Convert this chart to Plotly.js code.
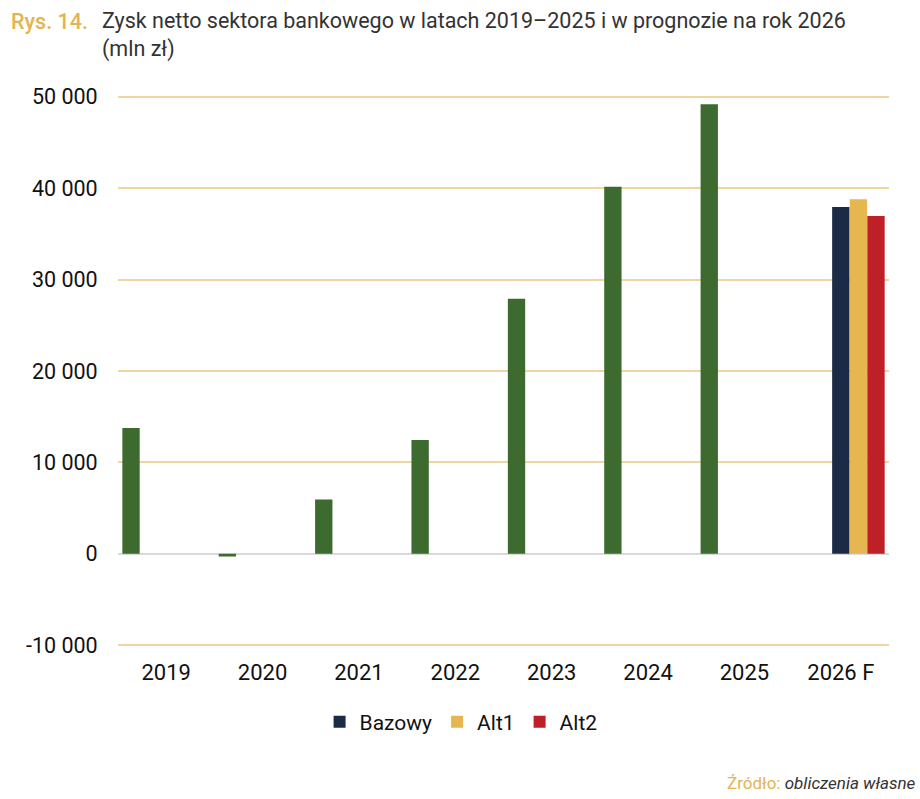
<!DOCTYPE html>
<html>
<head>
<meta charset="utf-8">
<script src="https://cdn.plot.ly/plotly-3.0.1.min.js"></script>
<style>
  html, body { margin: 0; padding: 0; background: #fff; }
  #chart { width: 920px; height: 799px; }
</style>
</head>
<body>
<div id="chart"></div>
<script>
// categories and values (mln zł)
const years = ['2019', '2020', '2021', '2022', '2023', '2024', '2025', '2026 F'];
const historical = [13750, -300, 5950, 12450, 27900, 40150, 49200, null];
const bazowy = [null, null, null, null, null, null, null, 37950];
const alt1 = [null, null, null, null, null, null, null, 38800];
const alt2 = [null, null, null, null, null, null, null, 36950];

const yTickVals = [-10000, 0, 10000, 20000, 30000, 40000, 50000];
const yTickText = ['-10 000', '0', '10 000', '20 000', '30 000', '40 000', '50 000'];

const GOLD = '#e3b552';
const BAR_W = 0.18;

function barTrace(y, name, color, offset, showlegend) {
    return {
        type: 'bar',
        x: years,
        y: y,
        name: name,
        width: BAR_W,
        offset: offset,
        marker: { color: color, line: { width: 0 } },
        showlegend: showlegend,
        hoverinfo: 'skip'
    };
}

const traces = [
    barTrace(historical, 'Zysk netto', '#3d6b2f', -0.455, false),
    barTrace(bazowy, 'Bazowy', '#1b2b45', -0.09, true),
    barTrace(alt1, 'Alt1', '#e6b651', 0.093, true),
    barTrace(alt2, 'Alt2', '#bf1f26', 0.275, true)
];

// range padded a bit, plotly drops gridlines sitting right on the plot edge
const layout = {
    width: 920,
    height: 799,
    margin: { l: 118, r: 31, t: 95.2, b: 151.7 },
    paper_bgcolor: '#ffffff',
    plot_bgcolor: '#ffffff',
    barmode: 'overlay',
    font: { family: 'Roboto, Arial, sans-serif', color: '#111111', size: 20 },
    xaxis: {
        type: 'category',
        showgrid: false,
        zeroline: false,
        showline: false,
        ticks: 'outside',
        ticklen: 6,
        tickcolor: 'rgba(0,0,0,0)',
        tickfont: { size: 22, color: '#111111' },
        fixedrange: true
    },
    yaxis: {
        range: [-10200, 50200],
        tickvals: yTickVals,
        ticktext: yTickText,
        showgrid: true,
        gridcolor: '#f0d5a0',
        gridwidth: 2,
        zeroline: true,
        zerolinecolor: '#d9d9d9',
        zerolinewidth: 2,
        showline: false,
        ticks: 'outside',
        ticklen: 15,
        tickcolor: 'rgba(0,0,0,0)',
        tickfont: { size: 21.5, color: '#111111' },
        fixedrange: true
    },
    showlegend: true,
    legend: {
        orientation: 'h',
        x: 0.445,
        xanchor: 'center',
        y: -0.136,
        yanchor: 'middle',
        font: { size: 21, color: '#111111' },
        itemwidth: 30,
        traceorder: 'normal'
    },
    annotations: [
        {
            text: 'Rys. 14.',
            xref: 'paper', yref: 'paper',
            x: -0.142, y: 1.1337, xanchor: 'left', yanchor: 'middle',
            showarrow: false,
            font: { size: 21.5, color: GOLD, weight: 500 }
        },
        {
            text: 'Zysk netto sektora bankowego w latach 2019\u20132025 i w prognozie na rok 2026<br>(mln zł)',
            xref: 'paper', yref: 'paper',
            x: -0.0234, y: 1.109, xanchor: 'left', yanchor: 'middle',
            align: 'left',
            showarrow: false,
            font: { size: 21.5, color: '#333333' }
        },
        {
            text: '<span style="color:' + GOLD + '">Źródło:</span> <i>obliczenia własne</i>',
            xref: 'paper', yref: 'paper',
            x: 1.0376, y: -0.2455, xanchor: 'right', yanchor: 'middle',
            showarrow: false,
            font: { size: 17, color: '#333333' }
        }
    ]
};

Plotly.newPlot('chart', traces, layout, { displayModeBar: false, staticPlot: true });
</script>
</body>
</html>
